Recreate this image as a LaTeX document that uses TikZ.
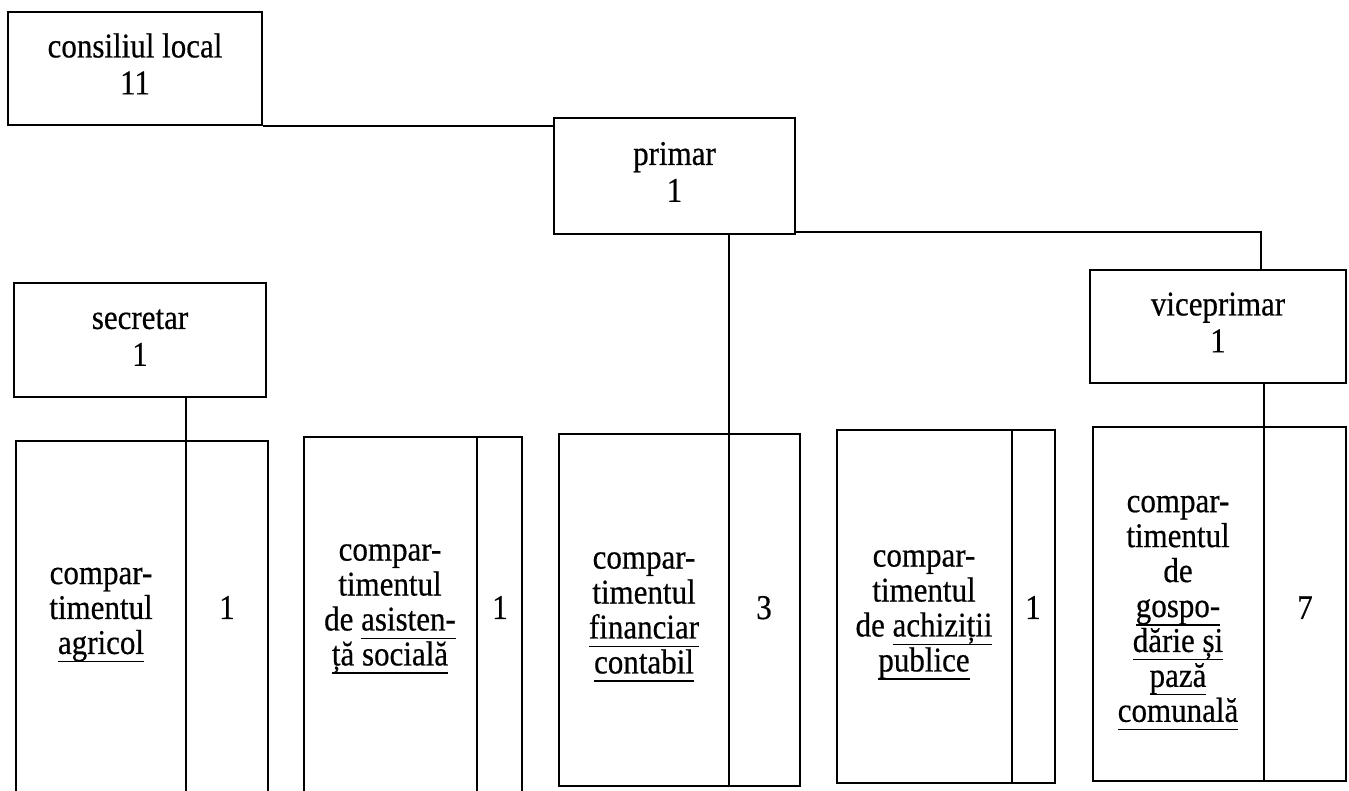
\documentclass[tikz,border=0pt]{standalone}
\usepackage{fontspec}
\setmainfont{Liberation Serif}
\newfontfamily\heavyserif[FakeBold=0.5]{Liberation Serif}
\newcommand{\ulx}[1]{\setbox0\hbox{#1}\rlap{\rule[-7.6pt]{\wd0}{1.3pt}}\box0}
\newcommand{\stk}[1]{\scalebox{1}[1.12]{\begin{tabular}{@{}c@{}}#1\end{tabular}}}
\begin{document}
\begin{tikzpicture}[x=1pt,y=-1pt,
  box/.style={draw, line width=1.6pt, rectangle, inner sep=0pt, align=center, font=\heavyserif\fontsize{31}{33}\selectfont},
  cell/.style={draw, line width=1.6pt, rectangle, inner sep=0pt},
  lbl/.style={inner sep=0pt, align=center, font=\heavyserif\fontsize{31}{31.2}\selectfont},
  conn/.style={line width=1.6pt}]
\useasboundingbox (0,0) rectangle (1349,790);
\fill[white] (0,0) rectangle (1349,790);
\clip (0,0) rectangle (1349,790);

% top level boxes
\node[box, minimum width=254pt, minimum height=113pt] (cons) at (135,68.5) {\stk{consiliul local\\11}};
\node[box, minimum width=241pt, minimum height=116pt] (primar) at (674.5,176) {\stk{primar\\1}};
\node[box, minimum width=252pt, minimum height=114pt] (secr) at (140,340) {\stk{secretar\\1}};
\node[box, minimum width=256pt, minimum height=113pt] (vice) at (1218,326.5) {\stk{viceprimar\\1}};

% bottom boxes
\node[cell, minimum width=252pt, minimum height=369pt] (agr) at (142,625.5) {};
\node[cell, minimum width=218pt, minimum height=373pt] (asi) at (413,623.5) {};
\node[cell, minimum width=241pt, minimum height=352pt] (fin) at (679.5,610) {};
\node[cell, minimum width=218pt, minimum height=353pt] (ach) at (946,606.5) {};
\node[cell, minimum width=253pt, minimum height=354pt] (gos) at (1219.5,604) {};

% separator positions
\coordinate (sepA) at (186,0);
\coordinate (sepB) at (477,0);
\coordinate (sepC) at (729,0);
\coordinate (sepD) at (1012,0);
\coordinate (sepE) at (1264,0);
\coordinate (pv) at (1261,232);

% texts
\node[lbl] (agrT) at (101,612) {\stk{compar-\\timentul\\\ulx{agricol}}};
\node[lbl] (agrN) at (227,612) {\stk{1}};
\node[lbl] (asiT) at (390,606) {\stk{compar-\\timentul\\de \ulx{asisten-}\\\ulx{ță socială}}};
\node[lbl] (asiN) at (500,612) {\stk{1}};
\node[lbl] (finT) at (644,614) {\stk{compar-\\timentul\\\ulx{financiar}\\\ulx{contabil}}};
\node[lbl] (finN) at (764,612) {\stk{3}};
\node[lbl] (achT) at (924,612) {\stk{compar-\\timentul\\de \ulx{achiziții}\\\ulx{publice}}};
\node[lbl] (achN) at (1033,612) {\stk{1}};
\node[lbl] (gosT) at (1178,610) {\stk{compar-\\timentul\\de\\\ulx{gospo-}\\\ulx{dărie și}\\\ulx{pază}\\\ulx{comunală}}};
\node[lbl] (gosN) at (1305,612) {\stk{7}};

% connectors
\draw[conn, line width=2.2pt] (cons.south east) -- (cons.south east -| primar.west);
\draw[conn] (primar.east |- pv) -- (pv) -- (pv |- vice.north);
\draw[conn] (secr.south -| sepA) -- (agr.south -| sepA);
\draw[conn] (sepB |- asi.north) -- (sepB |- asi.south);
\draw[conn] (primar.south -| sepC) -- (fin.south -| sepC);
\draw[conn] (sepD |- ach.north) -- (sepD |- ach.south);
\draw[conn] (vice.south -| sepE) -- (gos.south -| sepE);
\end{tikzpicture}
\end{document}
